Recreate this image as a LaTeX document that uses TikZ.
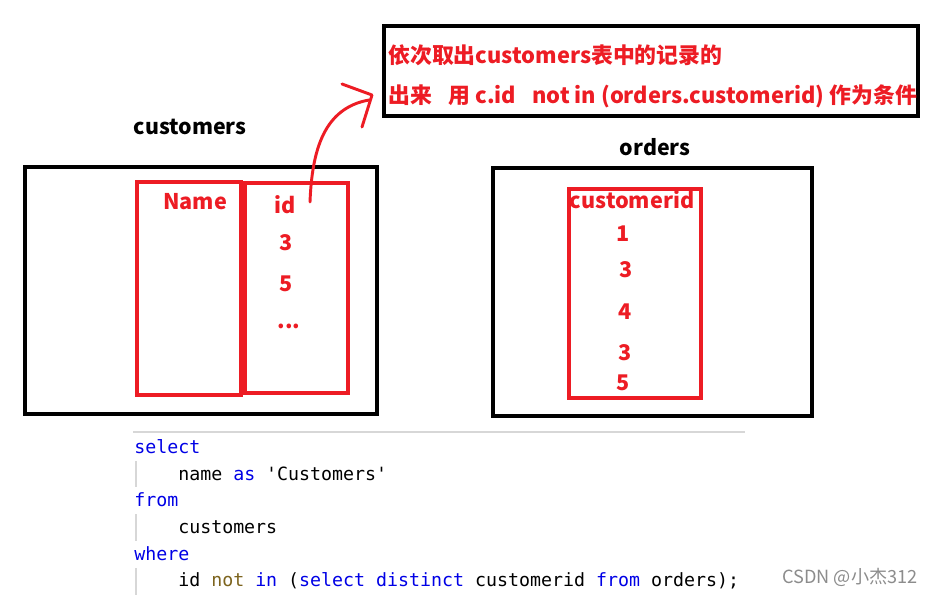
\documentclass[tikz,border=0pt]{standalone}
\usepackage{fontspec}
\newfontfamily\cjk{Noto Sans CJK SC}
\newfontfamily\code{DejaVu Sans Mono}
\definecolor{pred}{RGB}{237,28,36}
\definecolor{kw}{RGB}{0,0,230}
\definecolor{kwb}{RGB}{125,100,30}
\definecolor{guide}{RGB}{215,215,215}
\tikzset{
  blackbox/.style={draw=black, line width=3pt, inner sep=0pt},
  redbox/.style={draw=pred, line width=3pt, inner sep=0pt},
  redtxt/.style={text=pred, font=\cjk\bfseries\fontsize{16.2}{18}\selectfont, inner sep=0pt},
  title/.style={text=black, font=\cjk\bfseries\fontsize{16}{18}\selectfont, inner sep=0pt},
  note/.style={text=pred, font=\cjk\bfseries\fontsize{16.4}{18}\selectfont, inner sep=0pt, anchor=west},
  codeline/.style={font=\code\fontsize{13.7}{16}\selectfont, inner sep=0pt, anchor=west, text=black},
  guideline/.style={draw=guide, line width=0.8pt},
  hand/.style={draw=pred, line width=2.2pt, line cap=round, line join=round}
}
\begin{document}
\begin{tikzpicture}[x=0.75pt,y=-0.75pt]
\useasboundingbox (0,0) rectangle (937,596);
\fill[white] (0,0) rectangle (937,596);

% note box
\node[blackbox, minimum width=400.5pt, minimum height=67.5pt] (notebox) at (651,71) {};
\node[note] (note1) at (388,55) {依次取出customers表中的记录的};
\node[note] (note2) at (388,96) {出来\hspace{0.75em}用 c.id\hspace{0.75em}not in (orders.customerid) 作为条件};

% customers table
\node[title] (custtitle) at (190,127) {customers};
\node[blackbox, minimum width=264pt, minimum height=185.25pt] (custbox) at (201,290.5) {};
\node[redbox, minimum width=78pt, minimum height=159.75pt] (namecol) at (189,288.5) {};
\node[redbox, minimum width=77.25pt, minimum height=157.5pt] (idcol) at (296.5,288) {};
\node[redtxt] (namehd) at (195,202) {Name};
\node[redtxt] (idhd) at (285,205) {id};
\node[redtxt] (id1) at (286,243) {3};
\node[redtxt] (id2) at (286,284) {5};
\node[redtxt] (id3) at (289,326) {...};

% hand drawn arrow
\coordinate (arrstart) at (310,202);
\coordinate (arrend) at (369,100);
\coordinate (headA) at (342,84);
\coordinate (headB) at (372,95);
\coordinate (headC) at (362,127);
\draw[hand] (arrstart) .. controls (312,150) and (324,108) .. (arrend);
\draw[hand] (headA) -- (headB) -- (headC);

% orders table
\node[title] (ordtitle) at (655,147) {orders};
\node[blackbox, minimum width=239.25pt, minimum height=186pt] (ordbox) at (652.5,292) {};
\node[redbox, minimum width=99pt, minimum height=156.75pt] (cidcol) at (635,293.5) {};
\node[redtxt] (cidhd) at (632,200) {customerid};
\node[redtxt] (c1) at (623,234) {1};
\node[redtxt] (c2) at (626,270) {3};
\node[redtxt] (c3) at (625,312) {4};
\node[redtxt] (c4) at (625,353) {3};
\node[redtxt] (c5) at (623,383) {5};

% code
\draw[draw=guide, line width=0.8pt] (133,432) -- (745,432);
\draw[guideline] (136,461) -- (136,487);
\draw[guideline] (136,514) -- (136,541);
\draw[guideline] (136,568) -- (136,595);
\node[codeline] (l1) at (134,447) {\color{kw}select};
\node[codeline] (l2) at (178,474) {name {\color{kw}as} 'Customers'};
\node[codeline] (l3) at (134,500) {\color{kw}from};
\node[codeline] (l4) at (178,527) {customers};
\node[codeline] (l5) at (134,554) {\color{kw}where};
\node[codeline] (l6) at (178,581) {id {\color{kwb}not} {\color{kw}in} ({\color{kw}select} {\color{kw}distinct} customerid {\color{kw}from} orders);};

% watermark
\node[text=black!45, font=\cjk\fontsize{13.6}{15}\selectfont, inner sep=0pt] (wm) at (850,577) {CSDN @小杰312};
\end{tikzpicture}
\end{document}
